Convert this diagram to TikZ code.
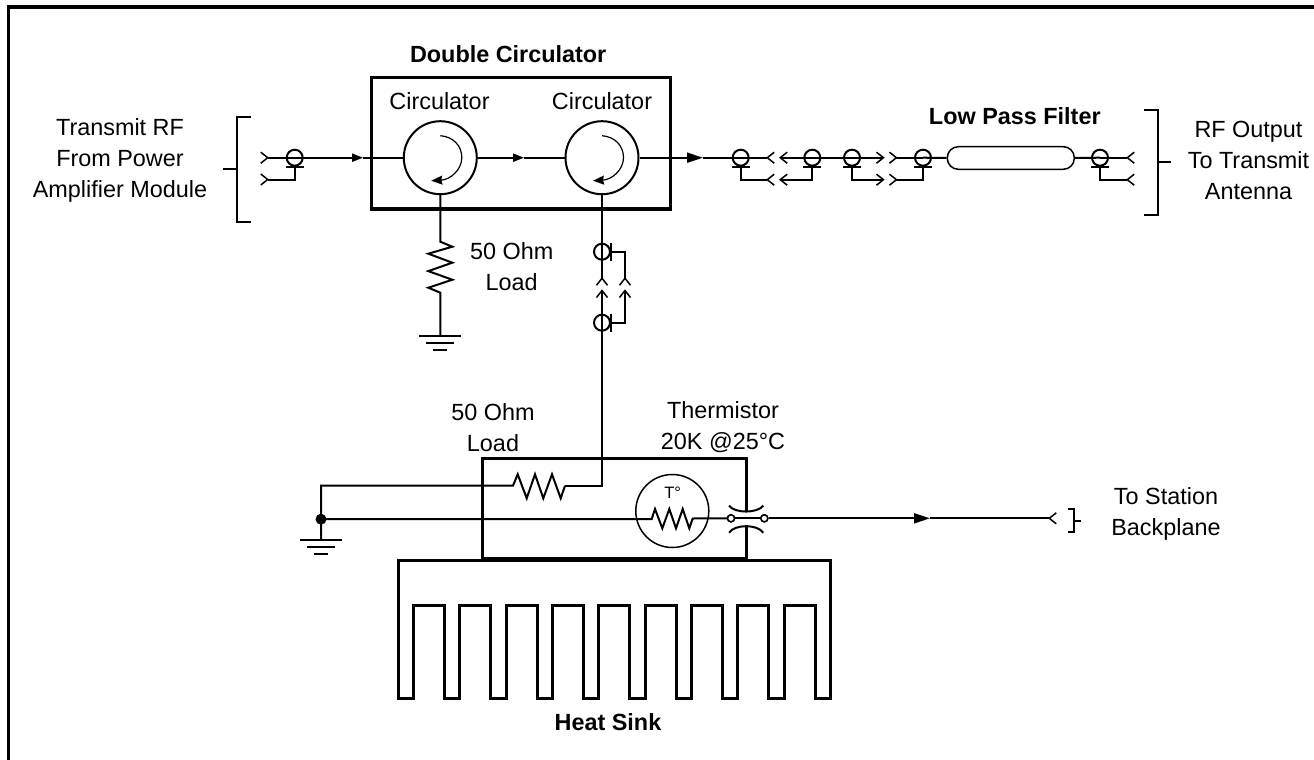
\documentclass[tikz,border=0pt]{standalone}
\usepackage{fontspec}
\setmainfont{Liberation Sans}
\usetikzlibrary{arrows.meta,positioning,calc}

\begin{document}
\begin{tikzpicture}[
    x=1pt,y=-1pt,
    plug/.tip={Straight Barb[reversed,length=7pt,width=11pt,line width=1.5pt]},
    socket/.tip={Straight Barb[length=7pt,width=11pt,line width=1.5pt]},
    flow/.tip={Stealth[length=11pt,width=8pt,inset=0pt]},
    bigflow/.tip={Stealth[length=16pt,width=10pt,inset=0pt]},
    spintip/.tip={Stealth[length=11pt,width=9pt,inset=1pt]},
    wire/.style={line width=2pt},
    heavy/.style={line width=3.4pt},
    txt/.style={font=\fontsize{23.4}{31}\selectfont,align=center,inner sep=0pt},
    boldtxt/.style={txt,font=\fontsize{23.4}{31}\selectfont\bfseries},
    circulator/.style={circle,draw,line width=2pt,minimum size=73pt,inner sep=0pt},
    sensor/.style={circle,draw,line width=1.5pt,minimum size=73pt,inner sep=0pt},
    coax/.style={circle,draw,line width=2pt,minimum size=16pt,inner sep=0pt},
    term/.style={circle,draw,fill=white,line width=1.5pt,minimum size=7pt,inner sep=0pt},
    ground/.pic={
        \draw[wire] (-21,0) -- (21,0);
        \draw[wire] (-14,7.5) -- (14,7.5);
        \draw[wire] (-7,14) -- (7,14);
    }
]
    \useasboundingbox (0,0) rectangle (1314,760);

    % page frame
    \draw[heavy] (8.5,5.4) -- (8.5,760);
    \draw[heavy] (6.8,7) -- (1314,7);

    % double circulator
    \node[draw,heavy,minimum width=299pt,minimum height=131.5pt,inner sep=0pt] (dblbox) at (521.2,143.2) {};
    \node[boldtxt,above=13pt of dblbox,xshift=-13pt] (dbltext) {Double Circulator};
    \node[circulator] (circA) at (440.3,157.7) {};
    \node[circulator] (circB) at (602,157.7) {};
    \node[txt] (circAtext) at (439.5,101) {Circulator};
    \node[txt] (circBtext) at (602,101) {Circulator};
    \foreach \c in {circA,circB} {
        \draw[line width=1.2pt,-spintip] ($(\c.center)+(0,-22)$) .. controls ($(\c.center)+(13,-21)$) and ($(\c.center)+(21.5,-12)$) .. ($(\c.center)+(21.5,0)$) .. controls ($(\c.center)+(21.5,12)$) and ($(\c.center)+(10,22)$) .. ($(\c.center)+(-9,23)$);
    }

    % coax connectors on the top run
    \foreach \name/\xpos in {coaxIn/294.7,coaxA/740.7,coaxB/812.3,coaxC/852,coaxD/923,coaxOut/1100} {
        \node[coax] (\name) at (\xpos,157.7) {};
        \draw[wire] ([xshift=-9pt]\name.south) -- ([xshift=9pt]\name.south);
    }
    \node[draw,line width=1.5pt,rounded corners=11pt,minimum width=127pt,minimum height=22.6pt,inner sep=0pt] (lpf) at (1010.8,158) {};
    \node[boldtxt,above=21pt of lpf,xshift=4pt] (lpftext) {Low Pass Filter};

    \coordinate (inA) at (260,157.7);
    \coordinate (inB) at (260,179.5);
    \coordinate (flowA) at (363,157.7);
    \coordinate (flowB) at (524,157.7);
    \coordinate (flowC) at (703,157.7);
    \coordinate (matAl) at (775,157.7);
    \coordinate (matAr) at (779,157.7);
    \coordinate (matBl) at (775,179.7);
    \coordinate (matBr) at (779,179.7);
    \coordinate (matCl) at (884.7,157.7);
    \coordinate (matCr) at (888.7,157.7);
    \coordinate (matDl) at (884.7,179.7);
    \coordinate (matDr) at (888.7,179.7);
    \coordinate (outA) at (1135,157.7);
    \coordinate (outB) at (1135,179.7);

    \draw[wire,-plug] (coaxIn.center) -- (inA);
    \draw[wire,-plug] (coaxIn.south) |- (inB);
    \draw[wire,-flow] (coaxIn.center) -- (flowA);
    \draw[wire] (flowA) -- (circA.west);
    \draw[wire,-flow] (circA.east) -- (flowB);
    \draw[wire] (flowB) -- (circB.west);
    \draw[wire,-bigflow] (circB.east) -- (flowC);
    \draw[wire] (flowC) -- (coaxA.center);
    \draw[wire,-plug] (coaxA.center) -- (matAl);
    \draw[wire,-socket] (coaxB.center) -- (matAr);
    \draw[wire,-plug] (coaxA.south) |- (matBl);
    \draw[wire,-socket] (coaxB.south) |- (matBr);
    \draw[wire] (coaxB.center) -- (coaxC.center);
    \draw[wire,-socket] (coaxC.center) -- (matCl);
    \draw[wire,-plug] (coaxD.center) -- (matCr);
    \draw[wire,-socket] (coaxC.south) |- (matDl);
    \draw[wire,-plug] (coaxD.south) |- (matDr);
    \draw[wire] (coaxD.center) -- (lpf.west);
    \draw[wire] (lpf.east) -- (coaxOut.center);
    \draw[wire,-plug] (coaxOut.center) -- (outA);
    \draw[wire,-plug] (coaxOut.south) |- (outB);

    % brackets and their texts
    \node[txt] (rfin) at (120,160.5) {Transmit RF\\From Power\\Amplifier Module};
    \node[txt] (rfout) at (1248.5,160) {RF Output\\To Transmit\\Antenna};
    \draw[wire] (250.7,117.3) -| (236.7,221.7) -- (250.7,221.7);
    \draw[wire] (223,168.7) -- (236.7,168.7);
    \draw[wire] (1144,110) -| (1158.3,215) -- (1144,215);
    \draw[wire] (1158.3,161.7) -- (1170.7,161.7);

    % load on the first circulator
    \coordinate (loadTop) at (440.3,241.7);
    \coordinate (gndA) at (440.3,335.7);
    \draw[wire] (circA.south) -- (loadTop) -- ++(12,5) -- ++(-24,7) -- ++(24,9) -- ++(-24,8.4) -- ++(24,8.6) -- ++(-24,8) -- ++(12,5) -- (gndA);
    \pic at (gndA) {ground};
    \node[txt] (loadAtext) at (511.7,267) {50 Ohm\\Load};

    % coax pair under the second circulator
    \node[coax] (coaxE) at (602,251.7) {};
    \node[coax] (coaxF) at (602,322.7) {};
    \draw[wire] ([yshift=9pt]coaxE.east) -- ([yshift=-9pt]coaxE.east);
    \draw[wire] ([yshift=9pt]coaxF.east) -- ([yshift=-9pt]coaxF.east);
    \coordinate (matEl) at (602,286);
    \coordinate (matEr) at (602,289.3);
    \coordinate (matFl) at (625,286);
    \coordinate (matFr) at (625,289.3);
    \draw[wire,-plug] (circB.south) -- (matEl);
    \draw[wire,-plug] (coaxE.east) -| (matFl);
    \draw[wire,-socket] (coaxF.east) -| (matFr);

    % sensor housing, open where the feedthrough passes
    \draw[heavy] (746.7,512) -- (746.7,458.7) -- (482.7,458.7) -- (482.7,558.3) -- (746.7,558.3) -- (746.7,525);
    \node[txt] (loadBtext) at (493,427.5) {50 Ohm\\Load};
    \node[txt] (thermtext) at (723,427.5) {Thermistor\\20K @25°C};

    % load resistor in the housing
    \coordinate (gndB) at (321,539.7);
    \coordinate (joint) at (321,519.2);
    \coordinate (loadL) at (513,485.7);
    \coordinate (loadR) at (565,485.7);
    \draw[wire] (gndB) -- (321,485.7) -- (loadL) -- (517.7,474.3) -- (526.7,498.3) -- (535,474.3) -- (543.3,498.3) -- (552,474.3) -- (560.7,498.3) -- (loadR);
    \draw[wire,-socket] (loadR) -| (matEr);
    \pic at (gndB) {ground};
    \node[circle,fill=black,minimum size=11pt,inner sep=0pt] (jointdot) at (joint) {};

    % thermistor
    \node[sensor] (therm) at (672.3,511) {};
    \node[font=\fontsize{16.5}{18}\selectfont,inner sep=0pt] (thermT) at (672.7,492.3) {T°};
    \node[term] (termA) at (731,518.3) {};
    \node[term] (termB) at (764.3,518.3) {};
    \coordinate (flowD) at (930,518.3);
    \coordinate (backA) at (1057,518.3);
    \draw[wire] (jointdot.center) -- (651.7,519) -- (655,509) -- (662.3,528.3) -- (669.3,509) -- (676,528.3) -- (682.7,509) -- (689.3,528.3) -- (692.7,518.5) -- (termA);
    \draw[wire] (termA) -- (termB);
    \draw[wire,-bigflow] (termB) -- (flowD);
    \draw[wire,-plug] (flowD) -- (backA);
    \draw[line width=2pt] (729,505.7) .. controls (735,513.5) and (757,513.5) .. (763.3,505.7);
    \draw[line width=2pt] (729,532.7) .. controls (735,524) and (757,524) .. (763.3,532.7);
    \node[term] at (termA) {};
    \node[term] at (termB) {};

    % backplane bracket
    \draw[wire] (1068.3,509.3) -| (1074.3,532.3) -- (1068.3,532.3);
    \draw[wire] (1074.3,520.7) -- (1080.7,520.7);
    \node[txt] (backtext) at (1166,514) {To Station\\Backplane};

    % heat sink
    \draw[line width=3pt,line join=miter] (398.3,698.3) -- (398.3,560) -- (830.7,560) -- (830.7,698.3)
        \foreach \fin in {784.3,737.7,691.7,645.7,598.3,552.3,506.7,459.3,413.3} {
            -- (\fin+31,698.3) -- (\fin+31,605.7) -- (\fin,605.7) -- (\fin,698.3)
        } -- (398.3,698.3) -- cycle;
    \node[boldtxt] (sinktext) at (608,721.7) {Heat Sink};
\end{tikzpicture}
\end{document}
